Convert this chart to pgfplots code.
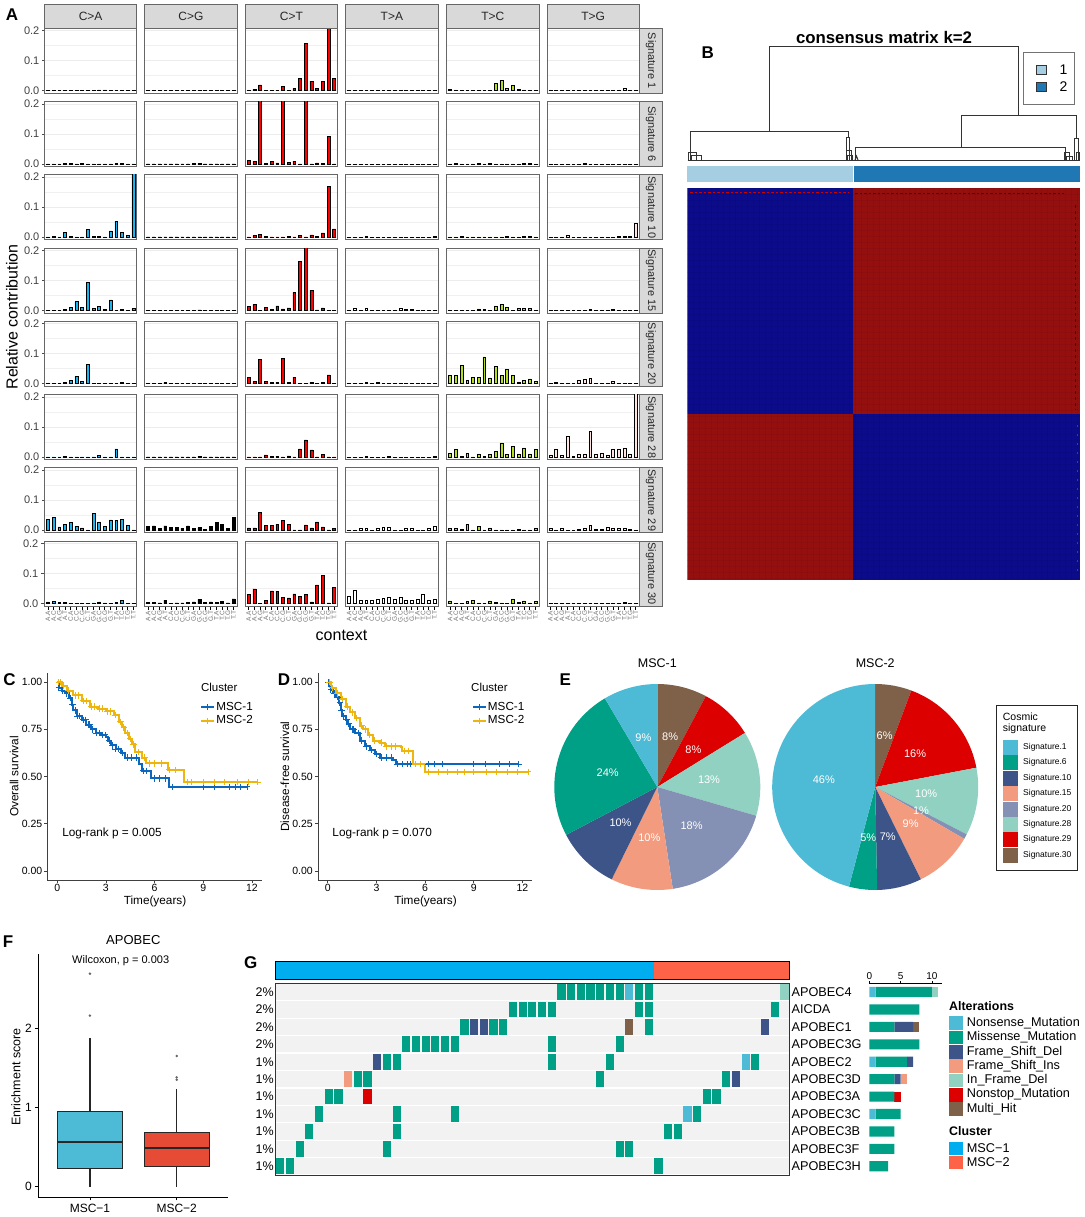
\documentclass[border=0pt]{standalone}
\usepackage{fontspec}
\setmainfont{Liberation Sans}
\usepackage{pgfplots}
\usepackage{pgfplotstable}
\usepgfplotslibrary{statistics}
\pgfplotsset{compat=1.18}
\pgfplotsset{/pgf/number format/assume math mode=true}

\definecolor{npgA}{HTML}{4DBBD5}
\definecolor{npgB}{HTML}{00A087}
\definecolor{npgC}{HTML}{3C5488}
\definecolor{npgD}{HTML}{F39B7F}
\definecolor{npgE}{HTML}{8491B4}
\definecolor{npgF}{HTML}{91D1C2}
\definecolor{npgG}{HTML}{DC0000}
\definecolor{npgH}{HTML}{7E6148}
\definecolor{npgI}{HTML}{E64B35}
\definecolor{ctA}{HTML}{19B5EE}
\definecolor{ctT}{HTML}{B2E01E}
\definecolor{ctG}{HTML}{FFE4E1}
\definecolor{kmA}{HTML}{0A67BD}
\definecolor{kmB}{HTML}{EFB50F}
\definecolor{hmBlue}{HTML}{0B0B8C}
\definecolor{hmRed}{HTML}{950F0F}
\definecolor{annA}{HTML}{A6CEE3}
\definecolor{annB}{HTML}{1F78B4}
\definecolor{clA}{HTML}{00AEEF}
\definecolor{clB}{HTML}{FF6347}

\newcommand{\fs}[1]{\fontsize{#1}{#1}\selectfont}

% mutational signature contributions, one table per signature
\pgfplotstableread{
ca cg ct ta tc tg
.001 .001 .001 .001 .005 .001
.002 .001 .005 .001 .003 .001
.001 .001 .019 .001 .001 .001
.001 .001 .001 .001 .001 .001
.001 .001 .002 .001 .001 .001
.001 .001 .002 .001 .001 .001
.001 .001 .015 .001 .001 .001
.001 .001 .001 .001 .001 .001
.002 .001 .008 .001 .024 .001
.003 .001 .042 .001 .034 .002
.003 .001 .157 .001 .008 .002
.001 .001 .032 .001 .017 .001
.002 .001 .008 .001 .005 .001
.001 .001 .031 .001 .003 .007
.001 .001 .270 .001 .001 .001
.001 .001 .040 .001 .001 .001
}\sigA
\pgfplotstableread{
ca cg ct ta tc tg
.001 .001 .012 .001 .001 .001
.001 .001 .009 .001 .003 .001
.001 .001 .300 .001 .001 .001
.002 .001 .002 .001 .001 .001
.002 .001 .009 .001 .001 .001
.001 .001 .004 .001 .003 .001
.002 .001 .300 .001 .001 .002
.001 .001 .005 .001 .003 .001
.001 .002 .010 .001 .001 .001
.001 .002 .001 .001 .001 .001
.001 .001 .300 .001 .001 .001
.001 .001 .001 .001 .001 .001
.002 .001 .004 .001 .001 .001
.002 .001 .003 .001 .002 .001
.001 .001 .093 .001 .002 .001
.001 .001 .001 .001 .001 .001
}\sigB
\pgfplotstableread{
ca cg ct ta tc tg
.001 .001 .001 .001 .001 .001
.002 .001 .005 .001 .001 .001
.001 .001 .010 .001 .002 .001
.016 .001 .003 .003 .001 .006
.003 .001 .001 .001 .001 .001
.001 .001 .001 .001 .001 .001
.001 .001 .001 .001 .001 .001
.026 .001 .002 .001 .001 .001
.002 .001 .001 .001 .001 .001
.002 .001 .006 .001 .001 .001
.001 .001 .001 .001 .002 .001
.021 .001 .007 .001 .001 .001
.053 .001 .002 .001 .001 .002
.016 .001 .014 .001 .002 .002
.006 .001 .169 .001 .002 .002
.300 .001 .027 .002 .001 .047
}\sigC
\pgfplotstableread{
ca cg ct ta tc tg
.001 .001 .013 .001 .001 .001
.001 .001 .019 .006 .001 .001
.001 .001 .001 .001 .001 .001
.004 .001 .009 .007 .001 .001
.011 .001 .004 .001 .001 .001
.029 .001 .015 .001 .005 .001
.010 .001 .005 .001 .003 .001
.094 .001 .008 .001 .001 .004
.007 .001 .060 .001 .015 .001
.014 .002 .164 .006 .019 .002
.004 .001 .270 .003 .009 .002
.035 .001 .067 .003 .001 .003
.001 .001 .002 .001 .007 .001
.004 .001 .008 .001 .006 .001
.001 .001 .001 .001 .007 .001
.006 .001 .001 .001 .001 .001
}\sigD
\pgfplotstableread{
ca cg ct ta tc tg
.001 .002 .020 .001 .027 .001
.001 .002 .007 .001 .027 .004
.001 .001 .082 .001 .062 .001
.004 .004 .007 .005 .010 .002
.011 .001 .005 .001 .021 .001
.024 .001 .005 .005 .020 .011
.008 .002 .085 .001 .089 .014
.064 .001 .005 .001 .019 .017
.001 .001 .022 .001 .057 .001
.002 .002 .001 .001 .027 .001
.001 .001 .001 .002 .048 .001
.001 .001 .004 .001 .028 .007
.001 .001 .002 .001 .006 .001
.005 .001 .004 .001 .012 .001
.001 .001 .029 .001 .016 .001
.001 .001 .001 .001 .007 .001
}\sigE
\pgfplotstableread{
ca cg ct ta tc tg
.001 .001 .001 .001 .012 .007
.001 .001 .001 .001 .025 .025
.001 .001 .001 .001 .002 .006
.003 .001 .007 .002 .012 .070
.001 .001 .002 .001 .001 .002
.001 .001 .003 .001 .011 .008
.001 .001 .001 .001 .003 .010
.001 .001 .004 .002 .009 .085
.001 .001 .001 .001 .019 .009
.005 .002 .027 .001 .047 .014
.001 .001 .057 .001 .009 .006
.001 .001 .024 .001 .036 .027
.027 .001 .001 .001 .011 .026
.001 .001 .009 .001 .031 .031
.001 .001 .001 .001 .011 .010
.001 .001 .001 .002 .026 .300
}\sigF
\pgfplotstableread{
ca cg ct ta tc tg
.035 .013 .007 .001 .006 .005
.042 .014 .007 .001 .005 .001
.011 .005 .060 .006 .003 .006
.019 .014 .016 .006 .019 .001
.026 .010 .016 .001 .001 .001
.013 .009 .019 .005 .012 .002
.007 .006 .033 .008 .001 .005
.001 .014 .018 .011 .007 .016
.056 .006 .001 .001 .001 .004
.027 .008 .001 .001 .001 .003
.013 .002 .017 .005 .001 .010
.034 .013 .007 .005 .001 .006
.033 .025 .027 .001 .002 .005
.036 .018 .011 .001 .001 .005
.015 .006 .001 .005 .001 .003
.001 .042 .006 .013 .006 .001
}\sigG
\pgfplotstableread{
ca cg ct ta tc tg
.005 .003 .030 .023 .008 .002
.006 .003 .048 .043 .001 .002
.003 .002 .001 .012 .001 .001
.003 .011 .009 .009 .007 .001
.001 .001 .042 .012 .009 .001
.001 .002 .040 .015 .002 .001
.001 .002 .019 .017 .001 .001
.001 .003 .018 .022 .008 .002
.002 .005 .032 .013 .004 .001
.005 .013 .023 .020 .002 .001
.002 .004 .030 .010 .001 .001
.001 .005 .005 .012 .015 .001
.004 .004 .062 .013 .004 .001
.010 .007 .094 .030 .008 .004
.001 .002 .002 .010 .002 .001
.001 .015 .053 .015 .007 .001
}\sigH

% altered samples per gene, panel G bars
\pgfplotstableread{
pos ns ms fd fi fr ni mh
10.5 1 9 0 0 1 0 0
9.5  0 8 0 0 0 0 0
8.5  0 4 3 0 0 0 1
7.5  0 8 0 0 0 0 0
6.5  1 5 1 0 0 0 0
5.5  0 4 1 1 0 0 0
4.5  0 4 0 0 0 1 0
3.5  1 4 0 0 0 0 0
2.5  0 4 0 0 0 0 0
1.5  0 4 0 0 0 0 0
0.5  0 3 0 0 0 0 0
}\genebars

\pgfplotsset{
  facet/.style={scale only axis,width=92.3pt,height=65pt,anchor=north west,ybar,
    xmin=.4,xmax=16.6,ymin=-.0087,ymax=.208,
    ytick={0,.1,.2},minor ytick={.05,.15},ymajorgrids,yminorgrids,
    major grid style={gray!15,line width=1pt},minor grid style={gray!12,line width=.7pt},
    axis line style={black!60,line width=1pt},
    xtick=\empty,yticklabels={},
    ytick style={draw=none},minor tick length=0pt,
    /pgf/number format/fixed,/pgf/number format/fixed zerofill,/pgf/number format/precision=1,
    tick label style={font={\fs{11}},text=black!75},
    clip=true},
  firstcol/.style={yticklabels={0.0,0.1,0.2},ytick style={draw=black!70,line width=.8pt},
    major tick length=2.5pt,tick align=outside,ytick pos=left,yticklabel style={inner sep=2.5pt}},
  lastrow/.style={xtick={1,...,16},xtick pos=bottom,tick align=outside,major tick length=3.5pt,
    xtick style={draw=black,line width=.8pt},
    xticklabels={A.A,A.C,A.G,A.T,C.A,C.C,C.G,C.T,G.A,G.C,G.G,G.T,T.A,T.C,T.G,T.T},
    xticklabel style={rotate=90,anchor=east,font={\fs{6.5}},text=black!55,inner sep=1pt}},
  km/.style={scale only axis,width=214.2pt,height=207pt,anchor=south west,
    xmin=-.6,xmax=12.6,ymin=-.0476,ymax=1.048,
    axis x line*=bottom,axis y line*=left,axis line style={black!75,line width=.9pt,-},
    tick align=outside,major tick length=3pt,tick style={black!75,line width=.8pt},
    xtick={0,3,6,9,12},ytick={0,.25,.5,.75,1},
    yticklabel style={/pgf/number format/fixed,/pgf/number format/fixed zerofill,/pgf/number format/precision=2,inner sep=2pt},
    xticklabel style={inner sep=1pt},
    tick label style={font={\fs{10.5}}},
    label style={font={\fs{11.8}}},
    xlabel={Time(years)},
    legend cell align=left,
    legend image code/.code={\draw[##1,line width=2pt](0pt,0pt)--(13pt,0pt);\draw[##1,line width=1pt](6.5pt,-3pt)--(6.5pt,3pt);},
    legend style={draw=none,fill=none,font={\fs{11.7}},anchor=west,row sep=1.5pt,inner sep=0pt,
      nodes={inner sep=1.2pt},/tikz/every even column/.append style={column sep=4pt}}},
  kmline/.style={const plot,mark=none,line width=2pt},
  kmcens/.style={only marks,mark=+,mark size=3.2pt,mark options={line width=1pt},forget plot},
  pieaxis/.style={scale only axis,width=206pt,height=206pt,anchor=center,hide axis,clip=false,
    xmin=-1,xmax=1,ymin=-1,ymax=1},
  dend/.style={black!80,line width=1pt,mark=none},
}
% one facet of panel A: table, column, left, top, colour, extra options
\newcommand{\facet}[6]{%
  \begin{axis}[facet,at={(#3pt,-#4pt)},#6]
  \addplot[ybar,bar width=.5,bar shift=0pt,fill=#5,draw=black,line width=.55pt]
    table[x expr=\coordindex+1,y=#2]{#1};
  \end{axis}}
\newcommand{\facetrow}[3]{%
  \facet{#1}{ca}{44.5}{#2}{ctA}{firstcol,#3}
  \facet{#1}{cg}{144.7}{#2}{black}{#3}
  \facet{#1}{ct}{245.3}{#2}{red}{#3}
  \facet{#1}{ta}{345.7}{#2}{white}{#3}
  \facet{#1}{tc}{446.7}{#2}{ctT}{#3}
  \facet{#1}{tg}{547}{#2}{ctG}{#3}}
% pie slice between two cumulative percentages, clockwise from the top
\newcommand{\pieslice}[3]{%
  \fill[#3] (axis cs:0,0) -- (axis cs:{cos(90-3.6*#1)},{sin(90-3.6*#1)})
    arc[start angle={90-3.6*#1},end angle={90-3.6*#2},radius=103pt] -- cycle;}
\pgfdeclareplotmark{cell}{\pgfpathrectanglecorners{\pgfqpoint{-4.1pt}{-7.9pt}}{\pgfqpoint{4.1pt}{7.9pt}}\pgfusepathqfill}
\tikzset{cellplot/.style={only marks,mark=cell,mark options={fill=#1,draw=none}}}

\begin{document}
\begin{tikzpicture}
\path[use as bounding box] (0pt,0pt) rectangle (1084pt,-1217pt);

% ---- A
\facetrow{\sigA}{28.3}{}
\facetrow{\sigB}{101.7}{}
\facetrow{\sigC}{174.7}{}
\facetrow{\sigD}{248}{}
\facetrow{\sigE}{321.3}{}
\facetrow{\sigF}{394.7}{}
\facetrow{\sigG}{467.7}{}
\facetrow{\sigH}{541}{lastrow}

% ---- B
\begin{axis}[scale only axis,width=392.7pt,height=391.7pt,anchor=north west,at={(687.3pt,-188.3pt)},
  xmin=687.3,xmax=1080,ymin=188.3,ymax=580,y dir=reverse,
  axis on top,axis line style={draw=none},
  xtick={687.3,693.3,...,1080},ytick={188.3,194.3,...,580},xticklabels={},yticklabels={},
  major tick length=0pt,grid=major,major grid style={black,opacity=.06,line width=.6pt}]
\addplot[fill=hmBlue,draw=none] coordinates {(687.3,188.3)(853.3,188.3)(853.3,414)(687.3,414)} -- cycle;
\addplot[fill=hmRed,draw=none] coordinates {(853.3,188.3)(1080,188.3)(1080,414)(853.3,414)} -- cycle;
\addplot[fill=hmRed,draw=none] coordinates {(687.3,414)(853.3,414)(853.3,580)(687.3,580)} -- cycle;
\addplot[fill=hmBlue,draw=none] coordinates {(853.3,414)(1080,414)(1080,580)(853.3,580)} -- cycle;
\addplot[red!80!black,line width=1pt,dash pattern=on 2.5pt off 2pt] coordinates {(690,192.5)(848,192.5)};
\addplot[hmBlue,line width=.9pt,dash pattern=on 2.5pt off 2pt] coordinates {(855,193.5)(1064,193.5)};
\addplot[hmBlue,line width=.9pt,dash pattern=on 3pt off 3pt] coordinates {(1075.5,205)(1075.5,410)};
\addplot[red,line width=.9pt,dash pattern=on 2pt off 7pt] coordinates {(1077.5,425)(1077.5,578)};
\end{axis}
\begin{axis}[scale only axis,width=404pt,height=144pt,anchor=north west,at={(680pt,-40pt)},
  xmin=680,xmax=1084,ymin=40,ymax=184,y dir=reverse,hide axis]
\addplot[fill=annA,draw=none] coordinates {(687.3,165.7)(853.3,165.7)(853.3,182.3)(687.3,182.3)} -- cycle;
\addplot[fill=annB,draw=none] coordinates {(853.8,165.7)(1080,165.7)(1080,182.3)(853.8,182.3)} -- cycle;
\addplot[dend] coordinates {(769.3,131.7)(769.3,46.7)(1018.7,46.7)(1018.7,115)};
\addplot[dend] coordinates {(690,160)(690,131.7)(848.3,131.7)(848.3,137)};
\addplot[dend] coordinates {(961,147.7)(961,115)(1076.7,115)(1076.7,138)};
\addplot[dend] coordinates {(855.7,160)(855.7,147.7)(1065.7,147.7)(1065.7,160)};
\addplot[dend] coordinates {(688,160)(688,152.5)(696,152.5)(696,160)};
\addplot[dend] coordinates {(691,160)(691,155)(701.5,155)(701.5,160)};
\addplot[dend] coordinates {(846.8,160)(846.8,137)(849.8,137)(849.8,160)};
\addplot[dend] coordinates {(846,160)(846,150)(851,150)(851,160)};
\addplot[dend] coordinates {(847,160)(847,155)(852.5,155)(852.5,160)};
\addplot[dend] coordinates {(855,160)(856.5,156)(858,160)};
\addplot[dend] coordinates {(1074.5,160)(1074.5,138)(1078.8,138)(1078.8,160)};
\addplot[dend] coordinates {(1064,160)(1064,152.5)(1069,152.5)(1069,160)};
\addplot[dend] coordinates {(1066,160)(1066,156)(1072,156)(1072,160)};
\addplot[dend] coordinates {(1076,160)(1076,152)(1079.5,152)(1079.5,160)};
\addplot[dend,line width=.8pt] coordinates {(687.5,160.4)(1080,160.4)};
\end{axis}

% ---- C
\begin{axis}[km,at={(47.5pt,-880pt)},ylabel={Overall survival},
  ylabel style={at={(axis description cs:-.156,.5)},anchor=center},
  xlabel style={at={(axis description cs:.502,-.102)},anchor=center},
  legend style={at={(.712,.803)}}]
\addplot[kmline,kmA] coordinates {(0,1)(.1,.97)(.3,.955)(.5,.94)(.7,.915)(.9,.88)(1,.85)(1.2,.82)(1.5,.80)(1.8,.775)(2.1,.75)(2.4,.73)(2.7,.72)(3,.71)(3.1,.69)(3.3,.665)(3.6,.645)(3.9,.625)(4.2,.60)(5.05,.565)(5.2,.53)(5.8,.49)(6.9,.445)(11.7,.445)};
\addlegendentry{MSC-1}
\addplot[kmline,kmB] coordinates {(0,1)(.3,.98)(.6,.955)(1,.93)(1.5,.90)(2,.87)(2.5,.86)(3,.845)(3.5,.825)(3.8,.79)(4,.76)(4.2,.73)(4.4,.70)(4.6,.67)(4.8,.63)(5.2,.60)(5.5,.57)(6.8,.535)(7.8,.47)(12.35,.47)};
\addlegendentry{MSC-2}
\addplot[kmcens,kmA] coordinates {(.1,.97)(.3,.955)(.6,.94)(.8,.915)(.95,.88)(1.1,.85)(1.25,.82)(1.4,.82)(1.6,.80)(1.75,.80)(1.9,.775)(2,.775)(2.2,.75)(2.4,.73)(2.6,.73)(2.8,.72)(2.95,.72)(3.2,.69)(3.4,.665)(3.6,.645)(3.8,.645)(4,.625)(4.3,.60)(4.6,.60)(4.9,.60)(5.3,.53)(5.5,.53)(6,.49)(6.3,.49)(6.7,.49)(7.1,.445)(9,.445)(9.7,.445)(10.6,.445)(11,.445)(11.3,.445)(11.7,.445)};
\addplot[kmcens,kmB] coordinates {(.1,1)(.2,1)(.4,.98)(.7,.955)(1.1,.93)(1.3,.93)(1.6,.90)(1.8,.90)(2.1,.87)(2.3,.87)(2.6,.86)(2.8,.86)(3.1,.845)(3.3,.845)(3.6,.825)(3.9,.79)(4.1,.76)(4.3,.73)(4.5,.70)(4.7,.67)(5,.63)(5.4,.60)(5.7,.57)(6,.57)(6.4,.57)(6.9,.535)(7.3,.535)(8,.47)(8.3,.47)(9,.47)(9.7,.47)(10.3,.47)(11.1,.47)(11.8,.47)(12.35,.47)};
\node[anchor=west,inner sep=0pt,font={\fs{11.8}}] at (axis cs:.3,.2) {Log-rank p = 0.005};
\end{axis}

% ---- D
\begin{axis}[km,at={(318pt,-880pt)},ylabel={Disease-free survival},
  ylabel style={at={(axis description cs:-.154,.5)},anchor=center},
  xlabel style={at={(axis description cs:.502,-.102)},anchor=center},
  legend style={at={(.717,.803)}}]
\addplot[kmline,kmA] coordinates {(0,1)(.1,.98)(.2,.96)(.3,.94)(.5,.92)(.7,.89)(.8,.85)(.9,.82)(1.1,.80)(1.2,.78)(1.4,.75)(1.7,.73)(2,.69)(2.3,.66)(2.6,.64)(2.9,.62)(3.2,.60)(4,.59)(4.2,.565)(11.75,.565)};
\addlegendentry{MSC-1}
\addplot[kmline,kmB] coordinates {(0,1)(.2,.97)(.5,.94)(.8,.91)(1.1,.87)(1.4,.84)(1.7,.81)(2,.77)(2.2,.75)(2.5,.72)(2.8,.69)(3.2,.68)(3.5,.66)(4.5,.655)(4.6,.635)(5.25,.565)(6,.525)(12.35,.525)};
\addlegendentry{MSC-2}
\addplot[kmcens,kmA] coordinates {(.05,1)(.2,.96)(.4,.94)(.6,.92)(.75,.89)(.85,.85)(1,.82)(1.15,.80)(1.3,.78)(1.5,.75)(1.6,.75)(1.9,.73)(2.1,.69)(2.4,.66)(2.7,.64)(3,.62)(3.3,.60)(3.6,.60)(3.9,.60)(4.3,.565)(4.6,.565)(4.9,.565)(5.1,.565)(5.4,.565)(6.2,.565)(6.6,.565)(7.1,.565)(9,.565)(9.7,.565)(10.6,.565)(11.2,.565)(11.75,.565)};
\addplot[kmcens,kmB] coordinates {(.1,1)(.3,.97)(.6,.94)(.9,.91)(1.2,.87)(1.5,.84)(1.8,.81)(2.1,.77)(2.3,.75)(2.6,.72)(2.9,.69)(3.3,.68)(3.6,.66)(3.9,.66)(4.2,.66)(4.7,.635)(5,.635)(5.4,.565)(5.7,.565)(6.2,.525)(6.8,.525)(7.4,.525)(8,.525)(8.4,.525)(9,.525)(9.8,.525)(10.4,.525)(11.1,.525)(11.7,.525)(12.35,.525)};
\node[anchor=west,inner sep=0pt,font={\fs{11.8}}] at (axis cs:.28,.2) {Log-rank p = 0.070};
\end{axis}

% ---- E
\begin{axis}[pieaxis,at={(657.3pt,-787pt)}]
\addplot[draw=none,forget plot] coordinates {(0,0)};
\pieslice{0}{7.8}{npgH}
\pieslice{7.8}{16.2}{npgG}
\pieslice{16.2}{29.5}{npgF}
\pieslice{29.5}{47.6}{npgE}
\pieslice{47.6}{57.3}{npgD}
\pieslice{57.3}{67.3}{npgC}
\pieslice{67.3}{91.5}{npgB}
\pieslice{91.5}{100}{npgA}
\end{axis}
\begin{axis}[pieaxis,at={(875.2pt,-787pt)}]
\addplot[draw=none,forget plot] coordinates {(0,0)};
\pieslice{0}{5.7}{npgH}
\pieslice{5.7}{22}{npgG}
\pieslice{22}{32.6}{npgF}
\pieslice{32.6}{33.4}{npgE}
\pieslice{33.4}{42.7}{npgD}
\pieslice{42.7}{49.7}{npgC}
\pieslice{49.7}{54.1}{npgB}
\pieslice{54.1}{100}{npgA}
\end{axis}

% ---- F
\begin{axis}[scale only axis,width=190pt,height=243pt,anchor=south west,at={(38.3pt,-1197.3pt)},
  xmin=.404,xmax=2.595,ymin=-.134,ymax=2.934,
  axis x line*=bottom,axis y line*=left,axis line style={black,line width=.9pt,-},
  tick align=outside,major tick length=3pt,tick style={black,line width=.8pt},
  xtick={1,2},xticklabels={MSC−1,MSC−2},ytick={0,1,2},
  tick label style={font={\fs{12}}},
  ylabel={Enrichment score},ylabel style={font={\fs{12.5}},at={(axis description cs:-.118,.495)},anchor=center},
  boxplot/draw direction=y,boxplot/box extend=.75,boxplot/whisker extend=0,
  boxplot/every median/.style={line width=2pt}]
\addplot[boxplot prepared={draw position=1,lower whisker=0,lower quartile=.232,median=.565,upper quartile=.95,upper whisker=1.877},
  fill=npgA,draw=black!85,line width=1.1pt,mark=*,mark size=.6pt,mark options={black!60,fill=black!60}]
  coordinates {(0,2.16)(0,2.69)};
\addplot[boxplot prepared={draw position=2,lower whisker=0,lower quartile=.253,median=.485,upper quartile=.688,upper whisker=1.236},
  fill=npgI,draw=black!85,line width=1.1pt,mark=*,mark size=.6pt,mark options={black!60,fill=black!60}]
  coordinates {(0,1.35)(0,1.38)(0,1.65)};
\end{axis}

% ---- G
\begin{axis}[scale only axis,width=513.9pt,height=17.6pt,anchor=north west,at={(275.4pt,-961.7pt)},
  xmin=0,xmax=53,ymin=0,ymax=1,xtick=\empty,ytick=\empty,axis line style={black,line width=.9pt},axis on top]
\addplot[fill=clA,draw=none] coordinates {(0,0)(39,0)(39,1)(0,1)} -- cycle;
\addplot[fill=clB,draw=none] coordinates {(39,0)(53,0)(53,1)(39,1)} -- cycle;
\end{axis}
\begin{axis}[scale only axis,width=513.9pt,height=191.7pt,anchor=north west,at={(275.4pt,-983.3pt)},
  xmin=0,xmax=53,ymin=0,ymax=11,y dir=reverse,clip=true,
  axis background/.style={fill=black!5},
  axis line style={black!80,line width=.9pt},
  xtick=\empty,ytick={.5,1.5,...,10.5},
  yticklabels={2\%,2\%,2\%,2\%,1\%,1\%,1\%,1\%,1\%,1\%,1\%},
  major tick length=0pt,minor tick length=0pt,ytick style={draw=none},
  yticklabel style={font={\fs{12.5}},inner sep=1.5pt},
  minor xtick={0,1,...,53},minor ytick={0,1,...,11},
  xminorgrids,yminorgrids,minor grid style={white,line width=1.3pt}]
\addplot[cellplot=npgB] coordinates {
 (29.5,.5)(30.5,.5)(31.5,.5)(32.5,.5)(33.5,.5)(34.5,.5)(35.5,.5)(37.5,.5)(38.5,.5)
 (24.5,1.5)(25.5,1.5)(26.5,1.5)(27.5,1.5)(28.5,1.5)(37.5,1.5)(38.5,1.5)(51.5,1.5)
 (19.5,2.5)(22.5,2.5)(23.5,2.5)(38.5,2.5)
 (13.5,3.5)(14.5,3.5)(15.5,3.5)(16.5,3.5)(17.5,3.5)(18.5,3.5)(28.5,3.5)(35.5,3.5)
 (11.5,4.5)(12.5,4.5)(28.5,4.5)(34.5,4.5)(49.5,4.5)
 (8.5,5.5)(9.5,5.5)(33.5,5.5)(46.5,5.5)
 (5.5,6.5)(6.5,6.5)(44.5,6.5)(45.5,6.5)
 (4.5,7.5)(12.5,7.5)(18.5,7.5)(43.5,7.5)
 (3.5,8.5)(12.5,8.5)(40.5,8.5)(41.5,8.5)
 (2.5,9.5)(11.5,9.5)(35.5,9.5)(36.5,9.5)
 (0.5,10.5)(1.5,10.5)(39.5,10.5)};
\addplot[cellplot=npgA] coordinates {(36.5,.5)(48.5,4.5)(42.5,7.5)};
\addplot[cellplot=npgF] coordinates {(52.5,.5)};
\addplot[cellplot=npgC] coordinates {(20.5,2.5)(21.5,2.5)(50.5,2.5)(10.5,4.5)(47.5,5.5)};
\addplot[cellplot=npgH] coordinates {(36.5,2.5)};
\addplot[cellplot=npgD] coordinates {(7.5,5.5)};
\addplot[cellplot=npgG] coordinates {(9.5,6.5)};
\end{axis}
\begin{axis}[scale only axis,width=72.4pt,height=191.7pt,anchor=north west,at={(869.3pt,-983.3pt)},
  xbar stacked,bar width=.58,bar shift=0pt,
  xmin=0,xmax=11.55,ymin=0,ymax=11,
  axis x line*=top,axis y line*=left,
  x axis line style={black,line width=.8pt,-},y axis line style={draw=none},
  xtick={0,5,10},xtick style={black,line width=.7pt},major tick length=2.5pt,tick align=outside,
  xticklabel style={font={\fs{10}},inner sep=1.5pt},
  ytick={.5,1.5,...,10.5},ytick style={draw=none},
  yticklabels={APOBEC3H,APOBEC3F,APOBEC3B,APOBEC3C,APOBEC3A,APOBEC3D,APOBEC2,APOBEC3G,APOBEC1,AICDA,APOBEC4},
  yticklabel style={font={\fs{12.7}},text width=74pt,align=left,inner sep=1pt}]
\addplot[fill=npgA,draw=none] table[x=ns,y=pos]{\genebars};
\addplot[fill=npgB,draw=none] table[x=ms,y=pos]{\genebars};
\addplot[fill=npgC,draw=none] table[x=fd,y=pos]{\genebars};
\addplot[fill=npgD,draw=none] table[x=fi,y=pos]{\genebars};
\addplot[fill=npgF,draw=none] table[x=fr,y=pos]{\genebars};
\addplot[fill=npgG,draw=none] table[x=ni,y=pos]{\genebars};
\addplot[fill=npgH,draw=none] table[x=mh,y=pos]{\genebars};
\end{axis}

% ---- text, strips and legends in page pixels
\begin{scope}[x=1pt,y=-1pt,every node/.style={inner sep=0pt}]
\foreach \x/\t in {44.5/C>A,144.7/C>G,245.3/C>T,345.7/T>A,446.7/T>C,547/T>G}{
  \draw[fill=black!15,draw=black!60,line width=1pt] (\x,4.3) rectangle (\x+92.3,28.3);
  \node[font={\fs{12}},text=black!85] at (\x+46.15,16.3) {\t};}
\foreach \y/\t in {28.3/1,101.7/6,174.7/10,248/15,321.3/20,394.7/28,467.7/29,541/30}{
  \draw[fill=black!15,draw=black!60,line width=1pt] (639.3,\y) rectangle (662.7,\y+65);
  \node[font={\fs{10.9}},text=black!85,rotate=-90] at (651,\y+32.5) {Signature \t};}
\node[font={\fs{16}},rotate=90] at (12,317) {Relative contribution};
\node[font={\fs{16}}] at (341.5,635) {context};

\foreach \x/\y/\t in {12/15/A,707.7/53/B,9.6/680/C,284/680/D,565.3/680/E,8/941.7/F,250.7/962.7/G}
  \node[font={\fs{17}\bfseries}] at (\x,\y) {\t};

\node[font={\fs{16.8}\bfseries}] at (884,37) {consensus matrix k=2};
\draw[black!55,line width=1pt,fill=white] (1023.3,52.7) rectangle (1074,104.3);
\draw[black!80,fill=annA,line width=.7pt] (1036,65.7) rectangle (1046.7,74.3);
\draw[black!80,fill=annB,line width=.7pt] (1036,82.7) rectangle (1046.7,91.3);
\node[font={\fs{14}}] at (1063.5,70) {1};
\node[font={\fs{14}}] at (1063.5,87) {2};

\node[font={\fs{11.5}},anchor=west] at (200.8,687) {Cluster};
\node[font={\fs{11.5}},anchor=west] at (471,687) {Cluster};

\node[font={\fs{12.5}}] at (657.3,663) {MSC-1};
\node[font={\fs{12.5}}] at (875.2,663) {MSC-2};
\foreach \x/\y/\t in {643.4/737.3/9,670.1/736.7/8,693.4/749.3/8,709/780/13,691.6/825.7/18,649.3/837.7/10,620.5/823/10,607.7/772.3/24,
  884.6/736/6,915.1/753.7/16,926.2/793.7/10,921/811/1,910.6/824/9,887.7/837/7,868.2/838/5,823.8/779.3/46}
  \node[font={\fs{11}},text=white] at (\x,\y) {\t\%};

\draw[black!85,line width=1pt] (996.7,705.7) rectangle (1077,870);
\node[font={\fs{10.5}},anchor=west] at (1002.7,717) {Cosmic};
\node[font={\fs{10.5}},anchor=west] at (1002.7,729) {signature};
\foreach \y/\c/\t in {747.3/npgA/1,762.7/npgB/6,778/npgC/10,793.3/npgD/15,809/npgE/20,824.3/npgF/28,839.7/npgG/29,855/npgH/30}{
  \fill[\c] (1002.9,\y-7.5) rectangle (1017.5,\y+7.5);
  \node[font={\fs{8.5}},anchor=west] at (1023,\y) {Signature.\t};}

\node[font={\fs{13}}] at (133.3,940) {APOBEC};
\node[font={\fs{11}}] at (120.7,960.7) {Wilcoxon, p = 0.003};

\node[font={\fs{12.4}\bfseries},anchor=west] at (949,1006) {Alterations};
\foreach \y/\c/\t in {1022.7/npgA/Nonsense\_Mutation,1037.3/npgB/Missense\_Mutation,1051.7/npgC/Frame\_Shift\_Del,1066/npgD/Frame\_Shift\_Ins,1080.3/npgF/In\_Frame\_Del,1094.7/npgG/Nonstop\_Mutation,1109/npgH/Multi\_Hit}{
  \fill[\c] (949,\y-6.8) rectangle (962.7,\y+6.8);
  \node[font={\fs{12.7}},anchor=west] at (966.7,\y) {\t};}
\node[font={\fs{12.4}\bfseries},anchor=west] at (949,1131.3) {Cluster};
\fill[clA] (949,1141.5) rectangle (962.7,1155);
\node[font={\fs{12.7}},anchor=west] at (966.7,1148.3) {MSC−1};
\fill[clB] (949,1155.5) rectangle (962.7,1169);
\node[font={\fs{12.7}},anchor=west] at (966.7,1162.3) {MSC−2};
\end{scope}
\end{tikzpicture}
\end{document}
